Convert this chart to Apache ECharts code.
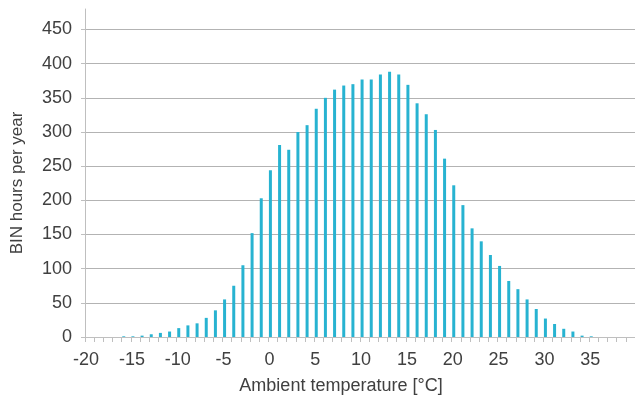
<!DOCTYPE html>
<html style="height: 100%">
<head>
    <meta charset="utf-8">
</head>
<body style="height: 100%; margin: 0">
<div id="container" style="width: 635px; height: 399px"></div>

<script type="text/javascript" src="https://fastly.jsdelivr.net/npm/echarts@6/dist/echarts.min.js"></script>
<script type="text/javascript">
    // temperature bins, -20 .. 39 °C
    var temps = [];
    for (var t = -20; t <= 39; t++) temps.push(String(t));

    var binHours = [
        0, 0, 0, 0, 1, 1, 2, 4, 6, 8,
        13, 17, 20, 28, 39, 55, 75, 105, 152, 203,
        244, 281, 274, 300, 310, 334, 350, 362, 368, 370,
        377, 377, 384, 388, 384, 369, 342, 326, 303, 261,
        222, 193, 159, 140, 120, 104, 82, 70, 55, 41,
        27, 19, 12, 8, 2, 1, 0, 0, 0, 0
    ];

    var yTicks = [0, 50, 100, 150, 200, 250, 300, 350, 400, 450];

    var dom = document.getElementById('container');
    var myChart = echarts.init(dom, null, { renderer: 'canvas' });

    var FONT = 'Liberation Sans, Arial, sans-serif';

    var option = {
        animation: false,
        grid: {
            left: 85,
            right: 0,
            top: 9,
            bottom: 62,
            containLabel: false,
            outerBoundsMode: 'none'
        },
        xAxis: {
            type: 'category',
            data: temps,
            boundaryGap: true,
            name: 'Ambient temperature [°C]',
            nameLocation: 'middle',
            nameGap: 40,
            nameTextStyle: {
                fontFamily: FONT,
                fontSize: 18,
                color: '#404040',
                padding: [0, 38, 0, 0]
            },
            axisLine: { lineStyle: { color: '#bfbfbf', width: 1 } },
            axisTick: { show: true, interval: 0, length: 5, lineStyle: { color: '#bfbfbf' } },
            axisLabel: {
                interval: 4,
                margin: 14,
                padding: [0, 7, 0, 0],
                fontFamily: FONT,
                fontSize: 18,
                color: '#404040'
            },
            splitLine: { show: false }
        },
        yAxis: {
            type: 'value',
            min: 0,
            max: 480,
            interval: 50,
            name: 'BIN hours per year',
            nameLocation: 'middle',
            nameGap: 59,
            nameTextStyle: {
                fontFamily: FONT,
                fontSize: 17,
                color: '#404040',
                padding: [0, 20, 0, 0]
            },
            axisLine: { show: true, lineStyle: { color: '#bfbfbf', width: 1 } },
            axisTick: { show: true, length: 4, customValues: yTicks, lineStyle: { color: '#bfbfbf' } },
            axisLabel: {
                margin: 13,
                customValues: yTicks,
                fontFamily: FONT,
                fontSize: 18,
                color: '#404040'
            },
            splitLine: { show: true, lineStyle: { color: '#b3b3b3', width: 1 } }
        },
        series: [
            {
                name: 'BIN hours',
                type: 'bar',
                data: binHours,
                barWidth: 3,
                barGap: '67%',
                itemStyle: { color: '#27b3d1' }
            },
            {
                // empty companion series, only keeps the bars on the left side of each bin
                name: 'spacer',
                type: 'bar',
                data: [],
                barWidth: 3
            }
        ]
    };

    myChart.setOption(option);
    window.addEventListener('resize', myChart.resize);
</script>
</body>
</html>
